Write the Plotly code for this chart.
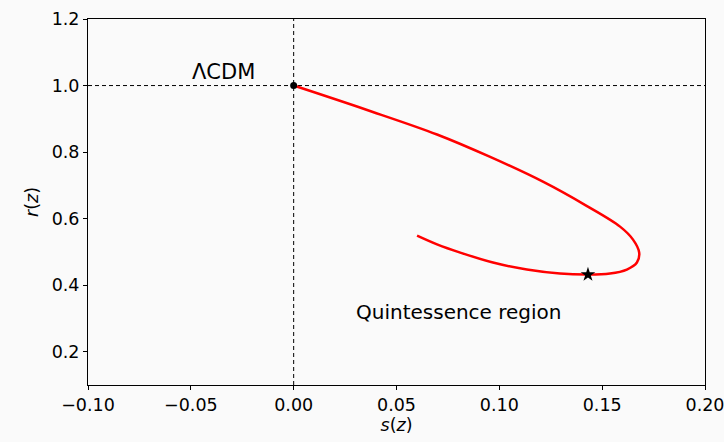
import plotly.graph_objects as go

# Trajectory in the (s, r) plane
s_vals = [0.0, 0.035, 0.0697, 0.095, 0.1212, 0.142, 0.1587, 0.165,
          0.168, 0.1669, 0.162, 0.1538, 0.143, 0.1295, 0.1134, 0.0969, 0.081, 0.070, 0.060]
r_vals = [1.0, 0.928, 0.853, 0.787, 0.711, 0.640, 0.576, 0.537,
          0.498, 0.468, 0.447, 0.435, 0.432, 0.435, 0.447, 0.468, 0.498, 0.522, 0.549]

lcdm_point = (0.0, 1.0)
star_point = (0.1431, 0.432)

x_ticks = [-0.10, -0.05, 0.00, 0.05, 0.10, 0.15, 0.20]
x_tick_labels = ["\u22120.10", "\u22120.05", "0.00", "0.05", "0.10", "0.15", "0.20"]
y_ticks = [0.2, 0.4, 0.6, 0.8, 1.0, 1.2]
y_tick_labels = ["0.2", "0.4", "0.6", "0.8", "1.0", "1.2"]

x_range = [-0.10, 0.20]
y_range = [0.1, 1.2]
EPS = 1e-6

FONT = "DejaVu Sans"
BG = "#fafafa"

fig = go.Figure()

# dashed reference lines
fig.add_trace(go.Scatter(x=x_range, y=[1.0, 1.0], mode="lines",
                         line=dict(color="black", width=1, dash="4px,3px"),
                         showlegend=False, hoverinfo="skip"))
fig.add_trace(go.Scatter(x=[0.0, 0.0], y=y_range, mode="lines",
                         line=dict(color="black", width=1, dash="4px,3px"),
                         showlegend=False, hoverinfo="skip"))

fig.add_trace(go.Scatter(x=s_vals, y=r_vals, mode="lines",
                         line=dict(color="#ff0000", width=2.5, shape="spline", smoothing=1.0),
                         showlegend=False))

fig.add_trace(go.Scatter(x=[lcdm_point[0]], y=[lcdm_point[1]], mode="markers",
                         marker=dict(color="black", size=7, symbol="circle"),
                         showlegend=False))
fig.add_trace(go.Scatter(x=[star_point[0]], y=[star_point[1]], mode="markers",
                         marker=dict(color="black", size=11, symbol="star"),
                         showlegend=False))

fig.add_annotation(x=-0.034, y=1.042, text="\u039bCDM", showarrow=False,
                   font=dict(size=21, color="black", family=FONT))
fig.add_annotation(x=0.0805, y=0.32, text="Quintessence region", showarrow=False,
                   font=dict(size=20, color="black", family=FONT))

axis_common = dict(showgrid=False, zeroline=False, showline=True, linecolor="black",
                   linewidth=1, mirror=True, ticks="outside", ticklen=4, tickwidth=1,
                   tickcolor="black", automargin=False, ticklabeloverflow="allow",
                   tickfont=dict(size=17.5, color="black", family=FONT))

fig.update_xaxes(range=[x_range[0] - EPS, x_range[1] + EPS], tickvals=x_ticks, ticktext=x_tick_labels,
                 title=dict(text="<i>s</i>(<i>z</i>)", font=dict(size=17.5, color="black", family=FONT),
                            standoff=2),
                 **axis_common)
fig.update_yaxes(range=[y_range[0], y_range[1] + EPS], tickvals=y_ticks, ticktext=y_tick_labels,
                 title=dict(text="<i>r</i>(<i>z</i>)", font=dict(size=17.5, color="black", family=FONT),
                            standoff=8),
                 **axis_common)

fig.update_layout(width=724, height=442,
                  margin=dict(l=88, r=19, t=19, b=57),
                  paper_bgcolor=BG, plot_bgcolor=BG,
                  font=dict(family=FONT, color="black"))

fig.write_html("out.html",
               config={"displayModeBar": False},
               post_script="document.body.style.margin='0';"
                           "document.body.style.background='%s';"
                           "document.body.style.overflow='hidden';" % BG)
